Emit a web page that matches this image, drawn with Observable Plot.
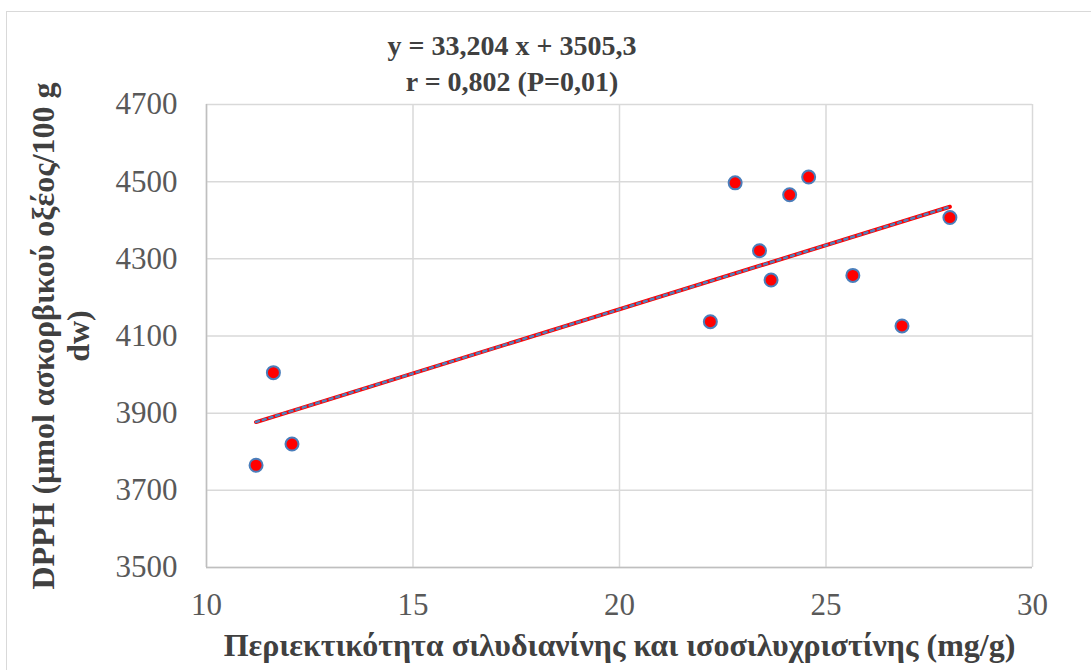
<!DOCTYPE html>
<html>
<head>
<meta charset="utf-8">
<script src="https://cdn.jsdelivr.net/npm/d3@7"></script>
<script src="https://cdn.jsdelivr.net/npm/@observablehq/plot@0.6"></script>
<style>
  html, body { margin: 0; padding: 0; background: #fff; }
  #wrap { position: relative; width: 1091px; height: 670px; overflow: hidden; font-family: "Liberation Serif", "Times New Roman", serif; }
  #border { position: absolute; left: 6px; top: 11px; width: 1090px; height: 665px; border: 1.5px solid #D9D9D9; box-sizing: border-box; pointer-events: none; }
  #title { position: absolute; left: 312px; width: 400px; top: 28px; text-align: center; font-weight: bold; font-size: 28px; line-height: 36px; color: #404040; }
  #chart { position: absolute; left: 0; top: 92px; }
</style>
</head>
<body>
<div id="wrap">
  <div id="border"></div>
  <div id="title">y = 33,204 x + 3505,3<br>r = 0,802 (P=0,01)</div>
  <div id="chart"></div>
</div>
<script>
// Data
const silybin = [11.20, 11.62, 12.07, 22.20, 22.80, 23.39, 23.67, 24.12, 24.58, 25.65, 26.84, 28.00];
const dpph    = [3765, 4005, 3820, 4137, 4497, 4321, 4245, 4466, 4512, 4257, 4126, 4407];
// Trend line endpoints (y = 33,204 x + 3505,3 over data range)
const trendX = [11.20, 28.00];
const trendY = [3877, 4435];
const xTicks = [10, 15, 20, 25, 30];
const yTicks = [3500, 3700, 3900, 4100, 4300, 4500, 4700];
const xLabel = "Περιεκτικότητα σιλυδιανίνης και ισοσιλυχριστίνης (mg/g)";
const yLabel = "DPPH (μmol ασκορβικού οξέος/100 g\ndw)";

const points = silybin.map((x, i) => ({x, y: dpph[i]}));
const trend = trendX.map((x, i) => ({x, y: trendY[i]}));

const chart = Plot.plot({
  width: 1091,
  height: 578,
  marginLeft: 206,
  marginRight: 59,
  marginTop: 12,
  marginBottom: 103,
  style: { fontFamily: "Liberation Serif, Times New Roman, serif", background: "transparent", overflow: "visible" },
  x: { domain: [10, 30] },
  y: { domain: [3500, 4700] },
  marks: [
    Plot.gridX(xTicks, { stroke: "#D9D9D9", strokeOpacity: 1, strokeWidth: 1.5 }),
    Plot.gridY(yTicks, { stroke: "#D9D9D9", strokeOpacity: 1, strokeWidth: 1.5 }),
    Plot.ruleY([3500], { stroke: "#BFBFBF", strokeWidth: 1.5 }),
    Plot.ruleX([10], { stroke: "#BFBFBF", strokeWidth: 1.5 }),
    Plot.axisX(xTicks, { tickSize: 0, tickPadding: 25, fontSize: 31, fill: "#595959", label: null, tickFormat: d => String(d) }),
    Plot.axisY(yTicks, { tickSize: 0, tickPadding: 29, fontSize: 31, fill: "#595959", label: null, tickFormat: d => String(d) }),
    Plot.line(trend, { x: "x", y: "y", stroke: "#FF0000", strokeWidth: 4 }),
    Plot.line(trend, { x: "x", y: "y", stroke: "#4F81BD", strokeWidth: 2.5, strokeDasharray: "3 4" }),
    Plot.dot(points, { x: "x", y: "y", r: 6.5, fill: "#FF0000", stroke: "#4A7EBB", strokeWidth: 2 }),
    Plot.text([xLabel], { frameAnchor: "bottom", lineAnchor: "middle", dy: 78, fontSize: 32, fontWeight: "bold", fill: "#404040" }),
    Plot.text([yLabel], { frameAnchor: "left", textAnchor: "middle", lineAnchor: "middle", dx: -146, rotate: -90, fontSize: 32, fontWeight: "bold", fill: "#404040", lineHeight: 1.1 })
  ]
});
document.getElementById("chart").appendChild(chart);
</script>
</body>
</html>
